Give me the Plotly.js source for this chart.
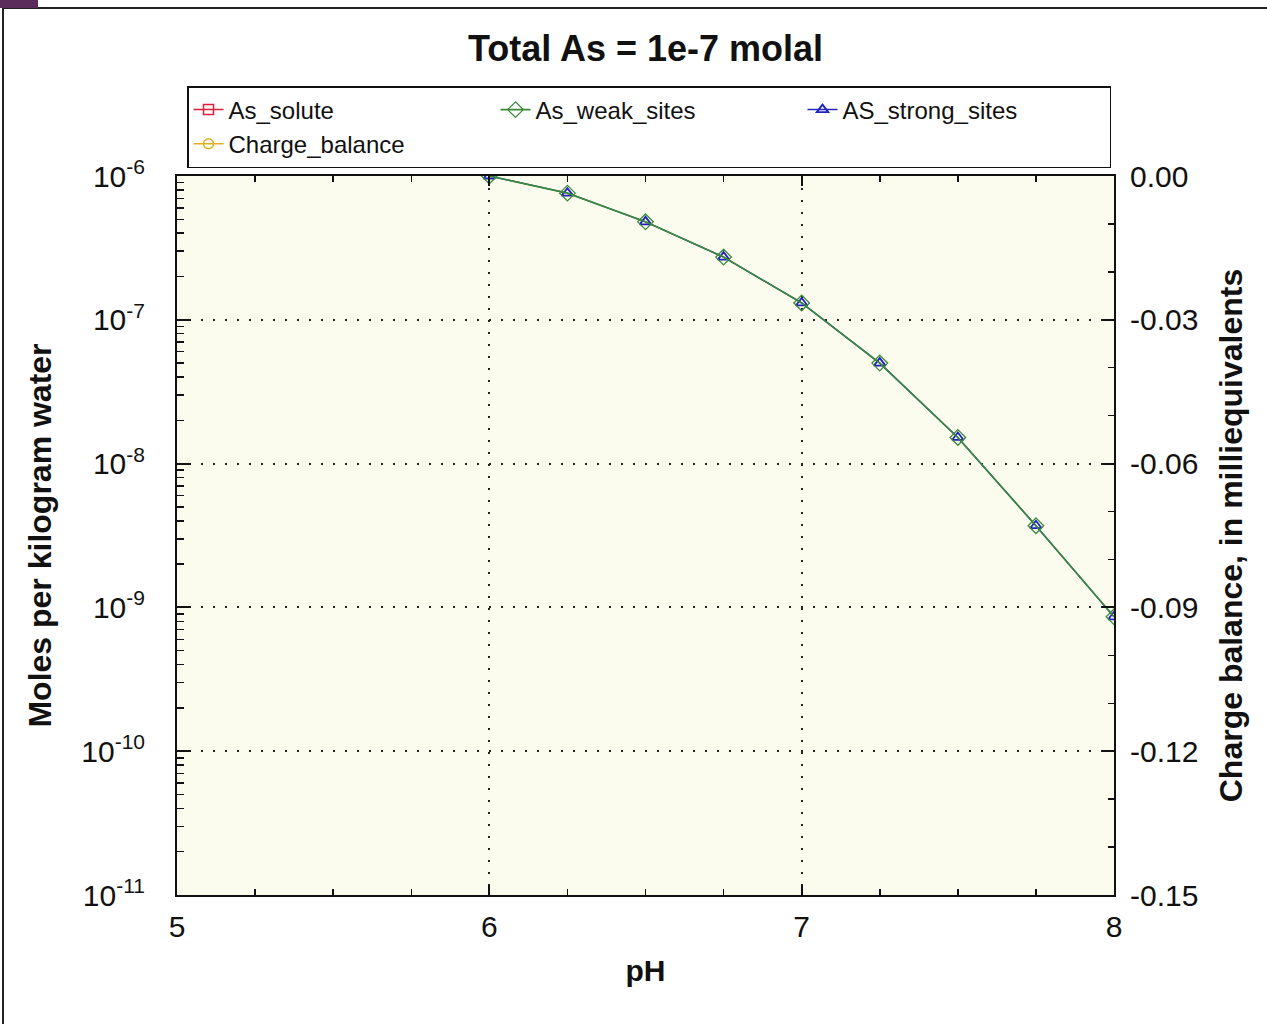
<!DOCTYPE html>
<html>
<head>
<meta charset="utf-8">
<script src="https://cdn.plot.ly/plotly-3.0.1.min.js"></script>
<style>
  html, body { margin: 0; padding: 0; background: #ffffff; }
  #chart { position: absolute; left: 0; top: 0; width: 1267px; height: 1024px; }
  #frame { position: absolute; left: 2px; top: 7px; width: 1300px; height: 1100px;
           border-left: 2px solid #222; border-top: 2px solid #222; pointer-events: none; z-index: 5; }
  #corner { position: absolute; left: 0; top: 0; width: 38px; height: 8px; background: #5b2d5b; z-index: 6; }
</style>
</head>
<body>
<div id="chart"></div>
<div id="frame"></div>
<div id="corner"></div>
<script>
// ---- data ----
const pH = [6.0, 6.25, 6.5, 6.75, 7.0, 7.25, 7.5, 7.75, 8.0];
const asWeakSites   = [1.0e-6, 7.6e-7, 4.8e-7, 2.73e-7, 1.31e-7, 5.0e-8, 1.52e-8, 3.7e-9, 8.6e-10];
const asStrongSites = [1.0e-6, 7.6e-7, 4.8e-7, 2.73e-7, 1.31e-7, 5.0e-8, 1.52e-8, 3.7e-9, 8.6e-10];
const asSolute = [null];        // not visible within plotted range
const chargeBalance = [null];   // not visible within plotted range
const emptyX = [null];

const leftTickVals = [1e-11, 1e-10, 1e-9, 1e-8, 1e-7, 1e-6];
const leftTickText = ['10<sup>-11</sup>', '10<sup>-10</sup>', '10<sup>-9</sup>', '10<sup>-8</sup>', '10<sup>-7</sup>', '10<sup>-6</sup>'];
const rightTickVals = [-0.15, -0.12, -0.09, -0.06, -0.03, 0.0];
const rightTickText = ['-0.15', '-0.12', '-0.09', '-0.06', '-0.03', '0.00'];
const xTickVals = [5, 6, 7, 8];

const FONT = 'Liberation Sans, Arial, sans-serif';

const traces = [
  {
    name: 'AS_strong_sites', x: pH, y: asStrongSites, type: 'scatter', mode: 'lines+markers',
    line: {color: '#2a2ab8', width: 1.5},
    marker: {symbol: 'triangle-up-open', size: 10, color: '#2020c0', line: {width: 1.8}},
    legendrank: 3
  },
  {
    name: 'As_weak_sites', x: pH, y: asWeakSites, type: 'scatter', mode: 'lines+markers',
    line: {color: '#3a8a3a', width: 1.6},
    marker: {symbol: 'diamond-open', size: 12, color: '#3a8a3a', line: {width: 1.3}},
    legendrank: 2
  },
  {
    name: 'As_solute', x: emptyX, y: asSolute, type: 'scatter', mode: 'lines+markers',
    line: {color: '#e0203a', width: 1.5},
    marker: {symbol: 'square-open', size: 10, color: '#e0203a', line: {width: 1.5}},
    legendrank: 1
  },
  {
    name: 'Charge_balance', x: emptyX, y: chargeBalance, type: 'scatter', mode: 'lines+markers',
    yaxis: 'y2',
    line: {color: '#e0b020', width: 1.5},
    marker: {symbol: 'circle-open', size: 10, color: '#e0b020', line: {width: 1.5}},
    legendrank: 4
  }
];

const layout = {
  width: 1267, height: 1024,
  margin: {l: 177, r: 153, t: 176, b: 129, pad: 0},
  paper_bgcolor: '#ffffff',
  plot_bgcolor: '#fcfcee',
  font: {family: FONT, color: '#111', size: 24},
  showlegend: true,
  title: {
    text: 'Total As = 1e-7 molal',
    font: {family: FONT, size: 36, weight: 700, color: '#111'},
    xref: 'paper', x: 0.5, xanchor: 'center',
    yref: 'container', y: 1 - 48 / 1024, yanchor: 'middle'
  },
  legend: {
    orientation: 'h',
    xref: 'paper', yref: 'paper',
    x: (187 - 177) / 937, xanchor: 'left',
    y: (895 - 86) / 719, yanchor: 'top',
    entrywidth: 262, entrywidthmode: 'pixels',
    bgcolor: '#ffffff', bordercolor: '#111', borderwidth: 1.5,
    font: {family: FONT, size: 24, color: '#111'},
    traceorder: 'normal',
    tracegroupgap: 0
  },
  xaxis: {
    range: [5, 8],
    tickmode: 'array', tickvals: xTickVals,
    ticks: 'inside', ticklen: 10, tickwidth: 2, tickcolor: '#111',
    showline: true, linecolor: '#111', linewidth: 2, mirror: 'ticks',
    showgrid: true, gridcolor: '#222', gridwidth: 2, griddash: '2px,10px',
    zeroline: false,
    tickfont: {family: FONT, size: 30, color: '#111'},
    ticklabelstandoff: 4,
    minor: {dtick: 0.25, ticks: 'inside', ticklen: 6, tickwidth: 1.5, tickcolor: '#111', showgrid: false},
    title: {text: 'pH', font: {family: FONT, size: 30, weight: 700, color: '#111'}, standoff: 18},
    automargin: false
  },
  yaxis: {
    type: 'log',
    range: [-11, -6],
    tickmode: 'array', tickvals: leftTickVals, ticktext: leftTickText,
    ticks: 'inside', ticklen: 14, tickwidth: 2, tickcolor: '#111',
    showline: true, linecolor: '#111', linewidth: 2,
    showgrid: true, gridcolor: '#222', gridwidth: 2, griddash: '2px,10px',
    zeroline: false,
    tickfont: {family: FONT, size: 30, color: '#111'},
    ticklabelstandoff: 24,
    minor: {dtick: 'D1', ticks: 'inside', ticklen: 7, tickwidth: 1.5, tickcolor: '#111', showgrid: false},
    title: {text: 'Moles per kilogram water', font: {family: FONT, size: 32, weight: 700, color: '#111'}, standoff: 20},
    automargin: false
  },
  yaxis2: {
    overlaying: 'y', side: 'right',
    range: [-0.15, 0],
    tickmode: 'array', tickvals: rightTickVals, ticktext: rightTickText,
    ticks: 'inside', ticklen: 12, tickwidth: 2, tickcolor: '#111',
    showline: true, linecolor: '#111', linewidth: 2,
    showgrid: false, zeroline: false,
    tickfont: {family: FONT, size: 30, color: '#111'},
    ticklabelstandoff: 8,
    minor: {dtick: 0.01, ticks: 'inside', ticklen: 6, tickwidth: 1.5, tickcolor: '#111', showgrid: false},
    title: {text: 'Charge balance, in milliequivalents', font: {family: FONT, size: 32, weight: 700, color: '#111'}, standoff: 22},
    automargin: false
  }
};

Plotly.newPlot('chart', traces, layout, {displayModeBar: false, staticPlot: true});
</script>
</body>
</html>
